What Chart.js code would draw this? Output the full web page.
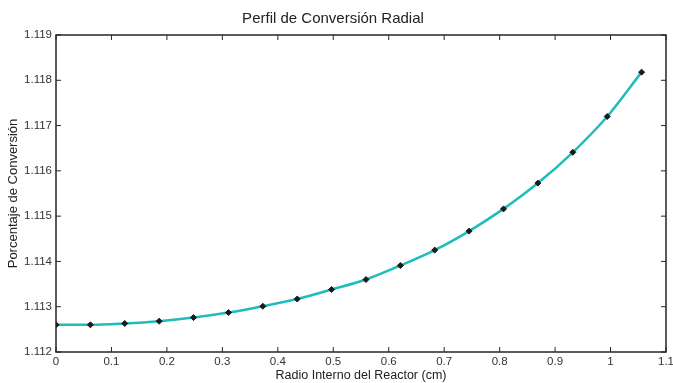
<!DOCTYPE html>
<html lang="es">
<head>
<meta charset="UTF-8">
<title>Perfil de Conversión Radial</title>
<script src="https://cdn.jsdelivr.net/npm/chart.js"></script>
<style>
    body { margin: 0; background: #fff; }
    #wrap { width: 673px; height: 383px; }
</style>
</head>
<body>
<div id="wrap"><canvas id="perfilChart" width="673" height="383"></canvas></div>
<script>
// radio interno (cm) y porcentaje de conversión
var radio = [0, 0.062, 0.124, 0.186, 0.248, 0.311, 0.373, 0.435, 0.497,
             0.559, 0.621, 0.683, 0.745, 0.807, 0.869, 0.932, 0.994, 1.056];
var conversion = [1.11260, 1.11260, 1.11263, 1.11268, 1.11276, 1.11287, 1.11301, 1.11317, 1.11338,
                  1.11360, 1.11391, 1.11425, 1.11467, 1.11516, 1.11573, 1.11641, 1.11720, 1.11818];
var xTicks = [0, 0.1, 0.2, 0.3, 0.4, 0.5, 0.6, 0.7, 0.8, 0.9, 1, 1.1];
var yTicks = [1.112, 1.113, 1.114, 1.115, 1.116, 1.117, 1.118, 1.119];

var fontFamily = '"Liberation Sans", Arial, Helvetica, sans-serif';

var points = radio.map(function (r, i) { return { x: r, y: conversion[i] }; });

// caja alrededor del área y marcas hacia adentro, estilo matlab
var framePlugin = {
    id: 'frame',
    afterDraw: function (chart) {
        var ctx = chart.ctx;
        var a = chart.chartArea;
        var xs = chart.scales.x, ys = chart.scales.y;
        var len = 5;
        ctx.save();
        ctx.strokeStyle = '#262626';
        ctx.lineWidth = 1;
        ctx.beginPath();
        xTicks.forEach(function (v) {
            var px = xs.getPixelForValue(v);
            ctx.moveTo(px, a.bottom); ctx.lineTo(px, a.bottom - len);
            ctx.moveTo(px, a.top); ctx.lineTo(px, a.top + len);
        });
        yTicks.forEach(function (v) {
            var py = ys.getPixelForValue(v);
            ctx.moveTo(a.left, py); ctx.lineTo(a.left + len, py);
            ctx.moveTo(a.right, py); ctx.lineTo(a.right - len, py);
        });
        ctx.stroke();
        ctx.lineWidth = 1.5;
        ctx.strokeRect(a.left, a.top, a.right - a.left, a.bottom - a.top);
        ctx.restore();
    }
};

var ctx = document.getElementById('perfilChart').getContext('2d');
var perfilChart = new Chart(ctx, {
    type: 'line',
    data: {
        datasets: [{
            data: points,
            borderColor: '#1fbcbc',
            borderWidth: 2.5,
            cubicInterpolationMode: 'monotone',
            fill: false,
            pointStyle: 'rectRot',
            pointRadius: 3,
            pointBackgroundColor: '#1a1a1a',
            pointBorderColor: '#1a1a1a',
            pointBorderWidth: 1
        }]
    },
    options: {
        responsive: false,
        animation: false,
        layout: { padding: { top: 0, right: 7, bottom: 0, left: 0 } },
        plugins: {
            legend: { display: false },
            tooltip: { enabled: false },
            title: {
                display: true,
                text: 'Perfil de Conversión Radial',
                color: '#222',
                font: { family: fontFamily, size: 15, weight: 'normal' },
                padding: { top: 10, bottom: 7 }
            }
        },
        scales: {
            x: {
                type: 'linear',
                min: 0,
                max: 1.1,
                afterFit: function (scale) {
                    scale.height = 31;
                    scale.paddingLeft = 0;
                    scale.paddingRight = 0;
                },
                afterBuildTicks: function (scale) {
                    scale.ticks = xTicks.map(function (v) { return { value: v }; });
                },
                grid: { display: false, drawTicks: false },
                border: { display: false },
                ticks: {
                    padding: 3,
                    maxRotation: 0,
                    autoSkip: false,
                    color: '#333',
                    font: { family: fontFamily, size: 11.5 },
                    callback: function (v) { return String(parseFloat(Number(v).toFixed(1))); }
                },
                title: {
                    display: true,
                    text: 'Radio Interno del Reactor (cm)',
                    color: '#222',
                    font: { family: fontFamily, size: 12.5 },
                    padding: { top: 0, bottom: 0 }
                }
            },
            y: {
                type: 'linear',
                min: 1.112,
                max: 1.119,
                afterFit: function (scale) {
                    scale.width = 56;
                    scale.paddingTop = 0;
                    scale.paddingBottom = 0;
                },
                afterBuildTicks: function (scale) {
                    scale.ticks = yTicks.map(function (v) { return { value: v }; });
                },
                grid: { display: false, drawTicks: false },
                border: { display: false },
                ticks: {
                    padding: 4,
                    autoSkip: false,
                    color: '#333',
                    font: { family: fontFamily, size: 11.5 },
                    callback: function (v) { return Number(v).toFixed(3); }
                },
                title: {
                    display: true,
                    text: 'Porcentaje de Conversión',
                    color: '#222',
                    font: { family: fontFamily, size: 13 },
                    padding: { top: 6, bottom: 0 }
                }
            }
        }
    },
    plugins: [framePlugin]
});
</script>
</body>
</html>
